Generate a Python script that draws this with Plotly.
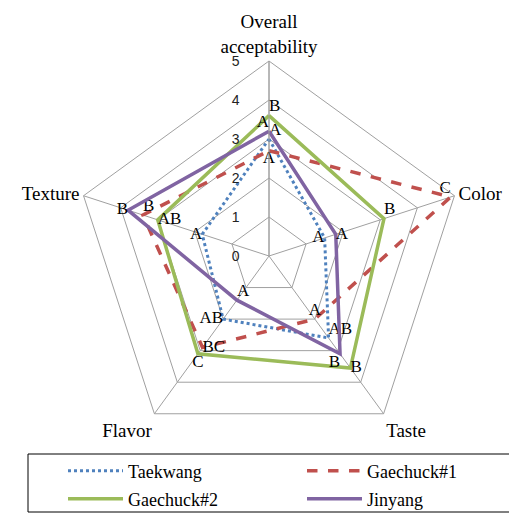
import plotly.graph_objects as go

categories = ["Overall<br>acceptability", "Color", "Taste", "Flavor", "Texture"]
tick_vals = [0, 1, 2, 3, 4, 5]

taekwang = [3.0, 1.5, 2.6, 2.0, 1.8]
gaechuck1 = [2.7, 4.9, 2.0, 2.9, 3.4]
gaechuck2 = [3.6, 3.1, 3.55, 3.1, 3.0]
jinyang = [3.2, 1.8, 3.1, 1.4, 3.8]

taekwang_letters = ["A", "A", "AB", "AB", "A"]
gaechuck1_letters = ["A", "C", "A", "BC", "B"]
gaechuck2_letters = ["B", "B", "B", "C", "AB"]
jinyang_letters = ["A", "A", "B", "A", "B"]

series = [
    ("Taekwang", taekwang, taekwang_letters, "#4F81BD", "dot", 3, "legend",
     ["top right", "middle left", "top right", "middle left", "middle left"]),
    ("Gaechuck#1", gaechuck1, gaechuck1_letters, "#C0504D", "dash", 3.5, "legend",
     ["bottom center", "top left", "top center", "middle right", "top right"]),
    ("Gaechuck#2", gaechuck2, gaechuck2_letters, "#9BBB59", "solid", 3.5, "legend2",
     ["top right", "top right", "middle right", "bottom center", "middle right"]),
    ("Jinyang", jinyang, jinyang_letters, "#8064A2", "solid", 3.5, "legend2",
     ["top left", "middle right", "bottom left", "top right", "middle left"]),
]

fig = go.Figure()
for name, vals, letters, color, dash, width, leg, tpos in series:
    fig.add_trace(go.Scatterpolar(
        r=vals + vals[:1],
        theta=categories + categories[:1],
        mode="lines+text",
        text=letters + [""],
        textposition=tpos + ["middle center"],
        textfont=dict(family="Liberation Serif", size=17, color="black"),
        line=dict(color=color, dash=dash, width=width),
        name=name,
        legend=leg,
    ))

# page body has an 8px default margin; work in figure coordinates
W, H = 501, 506
off = 8
cx, cy, R = 269 - off, 256 - off, 195
box_l, box_r, box_t, box_b = 28 - off, 510 - off, 454 - off, 512 - off
row1, row2 = 471 - off, 499 - off

leg_common = dict(
    orientation="h", x=(63 - off) / W, xanchor="left", yanchor="middle",
    itemwidth=55, entrywidth=169, bgcolor="rgba(0,0,0,0)", borderwidth=0,
    font=dict(family="Liberation Serif", size=18, color="black"),
)

fig.update_layout(
    width=W, height=H,
    margin=dict(l=0, r=0, t=0, b=0, autoexpand=False),
    paper_bgcolor="white",
    font=dict(family="Liberation Serif", size=17, color="black"),
    polar=dict(
        domain=dict(x=[(cx - R) / W, (cx + R) / W], y=[1 - (cy + R) / H, 1 - (cy - R) / H]),
        bgcolor="white",
        gridshape="linear",
        radialaxis=dict(
            range=[0, 5], tickvals=tick_vals, angle=90, side="counterclockwise",
            showline=True, linecolor="#A0A0A0", linewidth=1,
            gridcolor="#A0A0A0", gridwidth=1,
            ticks="outside", ticklen=24, tickcolor="rgba(0,0,0,0)",
            tickfont=dict(family="Liberation Sans", size=14, color="#222"),
            tickangle=90,
        ),
        angularaxis=dict(
            rotation=90, direction="clockwise",
            showline=True, linecolor="#A0A0A0", linewidth=1,
            gridcolor="#A0A0A0", gridwidth=1,
            ticks="", tickfont=dict(family="Liberation Serif", size=19, color="black"),
        ),
    ),
    shapes=[dict(
        type="rect", xref="paper", yref="paper",
        x0=box_l / W, x1=box_r / W, y0=1 - box_b / H, y1=1 - box_t / H,
        line=dict(color="black", width=1), fillcolor="white", layer="below",
    )],
    legend=dict(leg_common, y=1 - row1 / H),
    legend2=dict(leg_common, y=1 - row2 / H),
)
fig.write_html("out.html")
